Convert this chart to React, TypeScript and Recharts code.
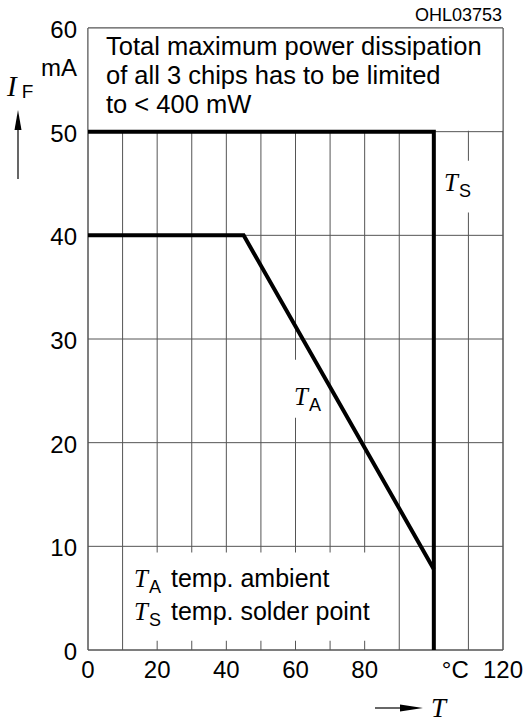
import React from 'react';
import {
  LineChart,
  Line,
  XAxis,
  YAxis,
  CartesianGrid,
  ReferenceArea,
} from 'recharts';

// Forward current I_F (mA) vs temperature T (°C)
const tempTicks = [0, 10, 20, 30, 40, 50, 60, 70, 80, 90, 100, 110, 120];
const currentTicks = [0, 10, 20, 30, 40, 50, 60];

// T_S: solder point curve
const tsTemp = [0, 100, 100];
const tsCurrent = [50, 50, 0];

// T_A: ambient curve
const taTemp = [0, 45, 100];
const taCurrent = [40, 40, 7.8];

const tsData = tsTemp.map((t, i) => ({ t, i: tsCurrent[i] }));
const taData = taTemp.map((t, i) => ({ t, i: taCurrent[i] }));

const SANS = '"Liberation Sans", Arial, Helvetica, sans-serif';
const SERIF = '"Liberation Serif", "Times New Roman", serif';
const GRID = '#555';

// white patches that hide the grid behind the text blocks
const masks = [
  { x1: 0, x2: 120, y1: 50.1, y2: 60 },
  { x1: 12, x2: 88, y1: 0.9, y2: 9.4 },
  { x1: 57, x2: 63, y1: 22.4, y2: 28 },
  { x1: 105, x2: 115, y1: 42.2, y2: 47.2 },
];

function XTick({ x, y, payload }: any) {
  const v = payload.value;
  if (v % 20 !== 0) return <g />;
  if (v === 100) {
    return (
      <text x={x + 8} y={y} dy="0.71em" textAnchor="start" fontSize={24} fontFamily={SANS} fill="#000">
        °C
      </text>
    );
  }
  return (
    <text x={x} y={y} dy="0.71em" textAnchor="middle" fontSize={24} fontFamily={SANS} fill="#000">
      {v}
    </text>
  );
}

function YTick({ x, y, payload }: any) {
  const v = payload.value;
  return (
    <g>
      <text x={x} y={y} dy="0.42em" textAnchor="end" fontSize={24} fontFamily={SANS} fill="#000">
        {v}
      </text>
      {v === 60 && (
        <text x={x} y={y + 48} textAnchor="end" fontSize={24} fontFamily={SANS} fill="#000">
          mA
        </text>
      )}
    </g>
  );
}

// italic symbol with upright subscript
function Sym({ x, y, sym, sub }: { x: number; y: number; sym: string; sub: string }) {
  return (
    <text x={x} y={y} fill="#000">
      <tspan fontFamily={SERIF} fontStyle="italic" fontSize={25}>{sym}</tspan>
      <tspan fontFamily={SANS} fontSize={18} dy={6} dx={1}>{sub}</tspan>
    </text>
  );
}

export default function App() {
  return (
    <div style={{ position: 'absolute', left: 0, top: 0, width: 523, height: 722, background: '#fff' }}>
      <LineChart
        width={523}
        height={722}
        margin={{ top: 28, right: 20, bottom: 42, left: 28 }}
      >
        <CartesianGrid stroke={GRID} strokeWidth={1} />
        <XAxis
          dataKey="t"
          type="number"
          domain={[0, 120]}
          ticks={tempTicks}
          interval={0}
          height={30}
          axisLine={false}
          tickLine={false}
          tickSize={0}
          tickMargin={11}
          tick={<XTick />}
        />
        <YAxis
          type="number"
          domain={[0, 60]}
          ticks={currentTicks}
          interval={0}
          width={60}
          axisLine={false}
          tickLine={false}
          tickSize={0}
          tickMargin={11}
          tick={<YTick />}
        />
        {masks.map((m, k) => (
          <ReferenceArea key={k} {...m} fill="#fff" fillOpacity={1} stroke="none" ifOverflow="visible" />
        ))}
        <ReferenceArea x1={0} x2={120} y1={0} y2={60} fill="none" stroke={GRID} strokeWidth={1} ifOverflow="visible" />
        <Line
          data={tsData}
          dataKey="i"
          type="linear"
          stroke="#000"
          strokeWidth={4}
          strokeLinejoin="miter"
          dot={false}
          activeDot={false}
          isAnimationActive={false}
        />
        <Line
          data={taData}
          dataKey="i"
          type="linear"
          stroke="#000"
          strokeWidth={4}
          strokeLinejoin="miter"
          dot={false}
          activeDot={false}
          isAnimationActive={false}
        />
      </LineChart>
      <svg
        width={523}
        height={722}
        style={{ position: 'absolute', left: 0, top: 0, pointerEvents: 'none' }}
      >
        <text x={502} y={21} textAnchor="end" fontSize={18} fontFamily={SANS} fill="#000">OHL03753</text>

        <g fontFamily={SANS} fontSize={25.5} fill="#000">
          <text x={106} y={55}>Total maximum power dissipation</text>
          <text x={106} y={84}>of all 3 chips has to be limited</text>
          <text x={106} y={113}>to &lt; 400 mW</text>
        </g>

        {/* y axis title */}
        <text x={7} y={96} fill="#000">
          <tspan fontFamily={SERIF} fontStyle="italic" fontSize={29}>I</tspan>
          <tspan fontFamily={SANS} fontSize={19} dx={5} dy={2}>F</tspan>
        </text>
        <line x1={18} y1={128} x2={18} y2={179} stroke="#000" strokeWidth={1.2} />
        <polygon points="18,110 14.5,130 21.5,130" fill="#000" />

        {/* x axis title */}
        <line x1={375} y1={708} x2={404} y2={708} stroke="#000" strokeWidth={1.2} />
        <polygon points="423,708 400,704.5 400,711.5" fill="#000" />
        <text x={431} y={717} fontFamily={SERIF} fontStyle="italic" fontSize={27} fill="#000">T</text>

        <Sym x={444} y={191} sym="T" sub="S" />
        <Sym x={294} y={405} sym="T" sub="A" />

        <g>
          <Sym x={134} y={587} sym="T" sub="A" />
          <text x={171} y={587} fontFamily={SANS} fontSize={25} fill="#000">temp. ambient</text>
          <Sym x={134} y={620} sym="T" sub="S" />
          <text x={171} y={620} fontFamily={SANS} fontSize={25} fill="#000">temp. solder point</text>
        </g>
      </svg>
    </div>
  );
}
